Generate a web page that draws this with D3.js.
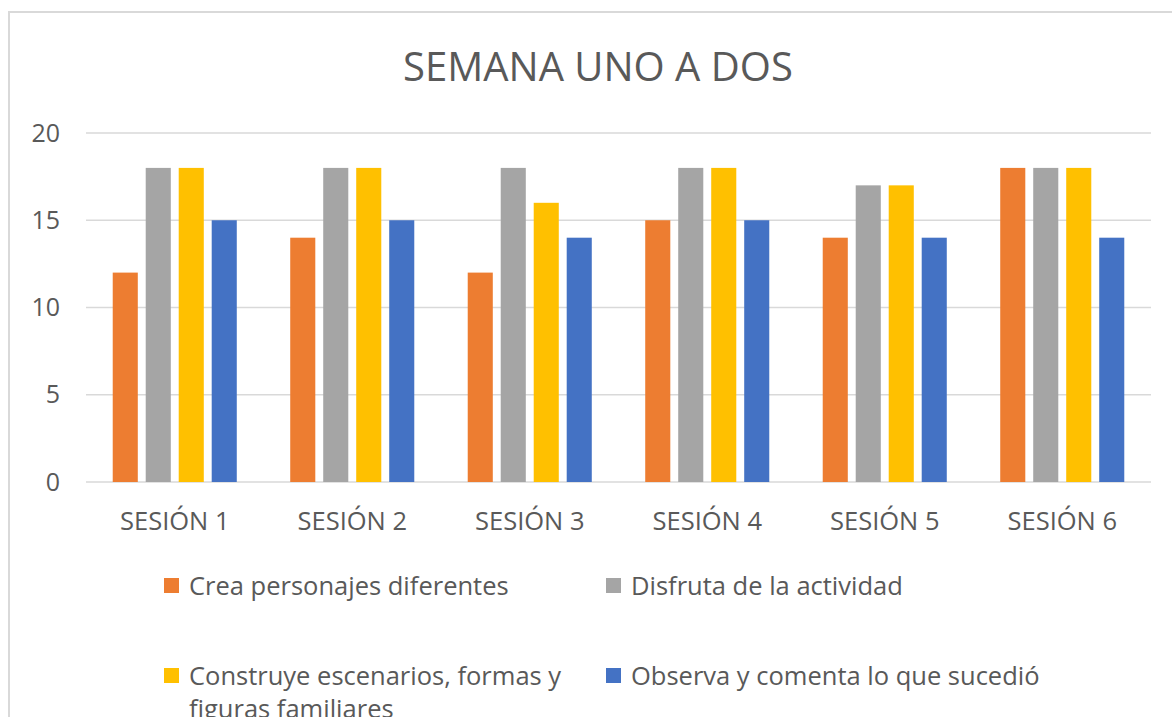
<!DOCTYPE html>
<html>
<head>
<meta charset="utf-8">
<script src="https://cdn.jsdelivr.net/npm/d3@7"></script>
<style>
  html, body { margin: 0; padding: 0; background: #fff; overflow: hidden; }
  svg { display: block; font-family: "Open Sans", "Noto Sans", sans-serif; }
</style>
</head>
<body>
<svg id="chart" width="1172" height="717"></svg>
<script>
// Sessions along the x axis
const categories = ["SESIÓN 1", "SESIÓN 2", "SESIÓN 3", "SESIÓN 4", "SESIÓN 5", "SESIÓN 6"];

// One value per session for each observed behaviour
const creaPersonajes      = [12, 14, 12, 15, 14, 18];
const disfrutaActividad   = [18, 18, 18, 18, 17, 18];
const construyeEscenarios = [18, 18, 16, 18, 17, 18];
const observaComenta      = [15, 15, 14, 15, 14, 14];

const seriesNames = [
  "Crea personajes diferentes",
  "Disfruta de la actividad",
  "Construye escenarios, formas y figuras familiares",
  "Observa y comenta lo que sucedió"
];
const seriesValues = [creaPersonajes, disfrutaActividad, construyeEscenarios, observaComenta];
const seriesColors = ["#ED7D31", "#A5A5A5", "#FFC000", "#4472C4"];

const yTicks = [0, 5, 10, 15, 20];
const titleText = "SEMANA UNO A DOS";

const svg = d3.select("#chart");
const textColor = "#595959";
const gridColor = "#D9D9D9";

// Outer chart frame (continues past the right and bottom edges)
svg.append("rect")
  .attr("x", 9).attr("y", 12)
  .attr("width", 1300).attr("height", 800)
  .attr("fill", "none")
  .attr("stroke", gridColor)
  .attr("stroke-width", 2);

// Title
svg.append("text")
  .attr("x", 598).attr("y", 81)
  .attr("text-anchor", "middle")
  .attr("font-size", 40)
  .attr("fill", textColor)
  .text(titleText);

const plotLeft = 86, plotRight = 1151, plotTop = 133, plotBottom = 482;

const x = d3.scaleBand().domain(categories).range([plotLeft, plotRight]).padding(0);
const xInner = d3.scaleBand().domain(d3.range(seriesNames.length))
  .range([0, x.bandwidth()]).paddingInner(0.24).paddingOuter(0.81);
const y = d3.scaleLinear().domain([0, 20]).range([plotBottom, plotTop]);

// Horizontal gridlines
svg.append("g")
  .selectAll("line")
  .data(yTicks)
  .join("line")
  .attr("x1", plotLeft).attr("x2", plotRight)
  .attr("y1", d => y(d)).attr("y2", d => y(d))
  .attr("stroke", gridColor)
  .attr("stroke-width", 1.5);

// Y axis labels
const yAxis = d3.axisLeft(y).tickValues(yTicks).tickSize(0).tickPadding(26);
const gy = svg.append("g").attr("transform", `translate(${plotLeft},0)`).call(yAxis);
gy.select(".domain").remove();
gy.selectAll("text")
  .attr("font-size", 25)
  .attr("font-family", "'Open Sans', sans-serif")
  .attr("fill", textColor);

// X axis labels
const xAxis = d3.axisBottom(x).tickSize(0).tickPadding(30);
const gx = svg.append("g").attr("transform", `translate(0,${plotBottom})`).call(xAxis);
gx.select(".domain").remove();
gx.selectAll("text")
  .attr("font-size", 25.5)
  .attr("font-family", "'Open Sans', sans-serif")
  .attr("fill", textColor);

// Bars
const groups = svg.append("g")
  .selectAll("g")
  .data(categories)
  .join("g")
  .attr("transform", d => `translate(${x(d)},0)`);

groups.selectAll("rect")
  .data((d, i) => seriesValues.map((vals, s) => ({ s, v: vals[i] })))
  .join("rect")
  .attr("x", d => xInner(d.s))
  .attr("width", xInner.bandwidth())
  .attr("y", d => y(d.v))
  .attr("height", d => y(0) - y(d.v))
  .attr("fill", d => seriesColors[d.s]);

// Legend: two columns, two rows; long labels wrap within their column
const legendCols = [164, 606];
const legendWraps = [400, 520];
const legendRows = [595, 685];
const legend = svg.append("g");
seriesNames.forEach((name, i) => {
  const lx = legendCols[i % 2];
  const ly = legendRows[Math.floor(i / 2)];
  const wrap = legendWraps[i % 2];
  legend.append("rect")
    .attr("x", lx).attr("y", ly - 17)
    .attr("width", 15).attr("height", 15)
    .attr("fill", seriesColors[i]);
  const t = legend.append("text")
    .attr("x", lx + 25).attr("y", ly)
    .attr("font-size", 25.5)
    .attr("fill", textColor);
  // greedy word wrap
  const words = name.split(" ");
  let line = [];
  let tspan = t.append("tspan").attr("x", lx + 25).attr("dy", 0);
  words.forEach(w => {
    line.push(w);
    tspan.text(line.join(" "));
    if (tspan.node().getComputedTextLength() > wrap && line.length > 1) {
      line.pop();
      tspan.text(line.join(" "));
      line = [w];
      tspan = t.append("tspan").attr("x", lx + 25).attr("dy", 33).text(w);
    }
  });
});
</script>
</body>
</html>
